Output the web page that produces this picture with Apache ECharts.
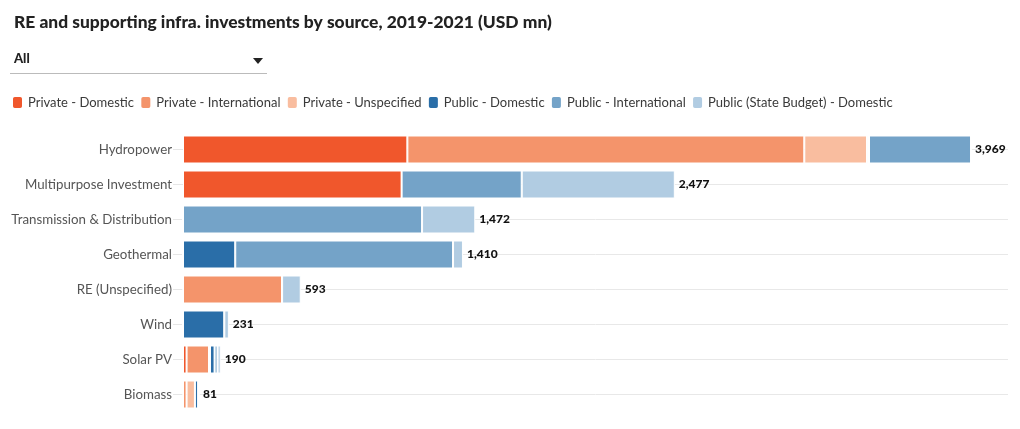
<!DOCTYPE html>
<html>
<head>
<meta charset="utf-8">
<script src="https://cdn.jsdelivr.net/npm/echarts@6/dist/echarts.min.js"></script>
<style>
html,body{margin:0;padding:0;background:#fff;}
#chart{width:1020px;height:429px;}
</style>
</head>
<body>
<div id="chart"></div>
<script>
var categories = ['Hydropower','Multipurpose Investment','Transmission & Distribution','Geothermal','RE (Unspecified)','Wind','Solar PV','Biomass'];
var seriesNames = ['Private - Domestic','Private - International','Private - Unspecified','Public - Domestic','Public - International','Public (State Budget) - Domestic'];
var privateDomestic      = [1130, 1101,    0,    0,   0,   0,  18,  0];
var privateInternational = [1999,    0,    0,    0, 499,   0, 113, 18];
var privateUnspecified   = [ 316,    0,    0,    0,   0,   0,   5, 42];
var publicDomestic       = [  10,    0,    0,  263,   0, 208,  23, 16];
var publicInternational  = [ 514,  605, 1204, 1097,   0,   0,  15,  5];
var stateBudgetDomestic  = [   0,  771,  268,   50,  94,  23,  16,  0];
var colors = ['#f0572c','#f4946b','#f9bd9f','#2a6ea8','#74a3c8','#b1cce2'];

var seriesData = [privateDomestic, privateInternational, privateUnspecified, publicDomestic, publicInternational, stateBudgetDomestic];
var totals = categories.map(function(c, i){
  return seriesData.reduce(function(s, arr){ return s + arr[i]; }, 0);
});

var FONT = 'Lato';
var series = seriesData.map(function(arr, k){
  return {
    name: seriesNames[k], type: 'bar', stack: 'all', data: arr, barWidth: 28,
    itemStyle: {color: colors[k], borderColor: '#fff', borderWidth: 1},
    emphasis: {disabled: true}
  };
});
series.push({
  name: 'Total', type: 'bar', stack: 'all', barWidth: 28,
  data: categories.map(function(){ return 0; }),
  itemStyle: {color: 'rgba(0,0,0,0)', borderWidth: 0},
  label: {
    show: true, position: 'right', distance: 4,
    fontFamily: FONT, fontWeight: 900, fontSize: 12, color: '#111',
    formatter: function(p){ return totals[p.dataIndex].toLocaleString('en-US'); }
  }
});

var chart = echarts.init(document.getElementById('chart'), null, {renderer: 'canvas'});
chart.setOption({
  animation: false,
  textStyle: {fontFamily: FONT},
  title: {
    text: 'RE and supporting infra. investments by source, 2019-2021 (USD mn)',
    left: 9, top: 9,
    textStyle: {fontFamily: FONT, fontWeight: 900, fontSize: 17.4, color: '#222'}
  },
  legend: {
    data: seriesNames, left: 11, top: 95, padding: 0, itemWidth: 11, itemHeight: 13, itemGap: 5.3,
    icon: 'roundRect',
    textStyle: {fontFamily: FONT, fontSize: 13, color: '#3a3a3a'},
    selectedMode: false
  },
  graphic: [
    {type: 'text', left: 14, top: 52, style: {text: 'All', font: '900 13px Lato', fill: '#222'}},
    {type: 'line', shape: {x1: 10, y1: 73.5, x2: 267, y2: 73.5}, style: {stroke: '#bbb', lineWidth: 1}},
    {type: 'polygon', shape: {points: [[253, 58], [263, 58], [258, 64]]}, style: {fill: '#222'}}
  ],
  grid: {left: 183, right: 12, top: 149.5, bottom: 34.5, containLabel: false},
  xAxis: {type: 'value', min: 0, max: 4155, show: false},
  yAxis: {
    type: 'category', data: categories, inverse: true, boundaryGap: false,
    axisLine: {show: false},
    axisTick: {show: true, length: 10, lineStyle: {color: '#e6e6e6'}},
    splitLine: {show: true, lineStyle: {color: '#e8e8e8', width: 1}},
    axisLabel: {margin: 11, fontFamily: FONT, fontSize: 13.3, color: '#555'}
  },
  series: series
});
</script>
</body>
</html>
